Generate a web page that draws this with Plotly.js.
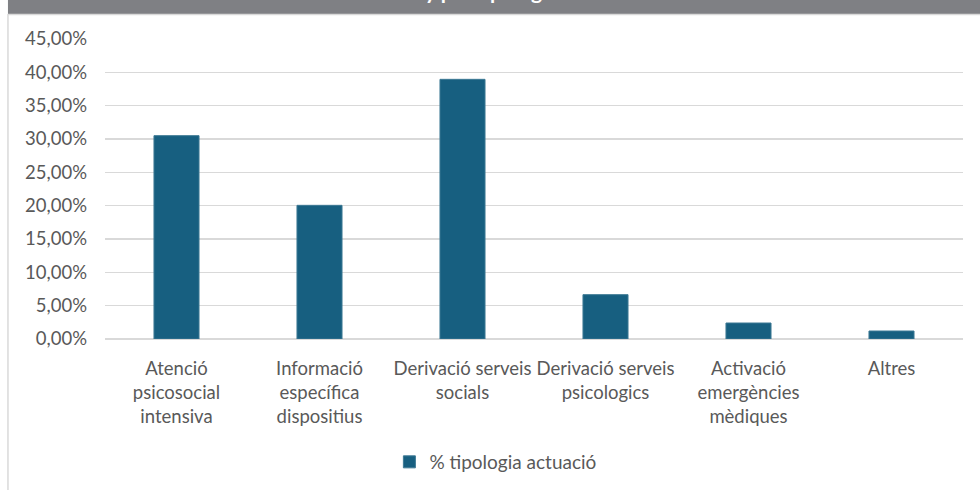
<!DOCTYPE html>
<html>
<head>
<meta charset="utf-8">
<script src="https://cdn.plot.ly/plotly-3.0.1.min.js"></script>
<style>
  html, body { margin: 0; padding: 0; background: #ffffff; }
  #chart { width: 980px; height: 490px; }
</style>
</head>
<body>
<div id="chart"></div>
<script>
// Data
var categories = [
  "Atenció<br>psicosocial<br>intensiva",
  "Informació<br>específica<br>dispositius",
  "Derivació serveis<br>socials",
  "Derivació serveis<br>psicologics",
  "Activació<br>emergències<br>mèdiques",
  "Altres"
];
var values = [0.305, 0.2005, 0.3895, 0.0665, 0.024, 0.012];
var seriesName = "% tipologia actuació";
var titleText = "Any per tipologia";

var fontFamily = "Lato, 'Open Sans', sans-serif";
var textColor = "#595959";
var gridColor = "#d9d9d9";
var barColor = "#175f80";

var trace = {
  type: "bar",
  x: categories,
  y: values,
  name: seriesName,
  showlegend: true,
  marker: { color: barColor, line: { color: "#3d7994", width: 1 } },
  hoverinfo: "skip"
};

var layout = {
  width: 980,
  height: 490,
  margin: { l: 105, r: 17, t: 39, b: 151, autoexpand: false },
  paper_bgcolor: "#ffffff",
  plot_bgcolor: "#ffffff",
  separators: ",.",
  bargap: 0.685,
  font: { family: fontFamily, size: 18.5, color: textColor },
  xaxis: {
    type: "category",
    automargin: false,
    showgrid: false,
    showline: false,
    zeroline: false,
    ticks: "",
    tickfont: { family: fontFamily, size: 18.5, color: textColor },
    ticklabelstandoff: 16
  },
  yaxis: {
    range: [0, 0.45],
    dtick: 0.05,
    tickformat: ".2%",
    automargin: false,
    showgrid: true,
    gridcolor: gridColor,
    gridwidth: 1.5,
    zeroline: true,
    zerolinecolor: gridColor,
    zerolinewidth: 1.5,
    showline: false,
    ticks: "",
    ticklabelstandoff: 17,
    tickfont: { family: fontFamily, size: 18.5, color: textColor }
  },
  legend: {
    orientation: "h",
    x: 0.455,
    xanchor: "center",
    y: -0.41,
    yanchor: "middle",
    font: { family: fontFamily, size: 19, color: textColor },
    itemwidth: 30
  },
  shapes: [
    { type: "rect", xref: "paper", yref: "paper",
      x0: -0.1131, x1: 1.1, y0: 1.0833, y1: 1.3,
      fillcolor: "#7f8084", line: { width: 0 } },
    { type: "line", xref: "paper", yref: "paper",
      x0: -0.1131, x1: 1.1, y0: 1.0817, y1: 1.0817,
      line: { color: "#d9d9d9", width: 1.5 } },
    { type: "line", xref: "paper", yref: "paper",
      x0: -0.1131, x1: -0.1131, y0: 1.0833, y1: -0.6,
      line: { color: "#d9d9d9", width: 1.5 } }
  ],
  annotations: [
    { text: "<b>" + titleText + "</b>", xref: "paper", yref: "paper",
      x: (478 - 105) / 858, y: (339 + 10) / 300, xanchor: "center", yanchor: "middle",
      showarrow: false, font: { family: fontFamily, size: 21, color: "#ffffff" } }
  ]
};

Plotly.newPlot("chart", [trace], layout, { staticPlot: true, displayModeBar: false });
</script>
</body>
</html>
